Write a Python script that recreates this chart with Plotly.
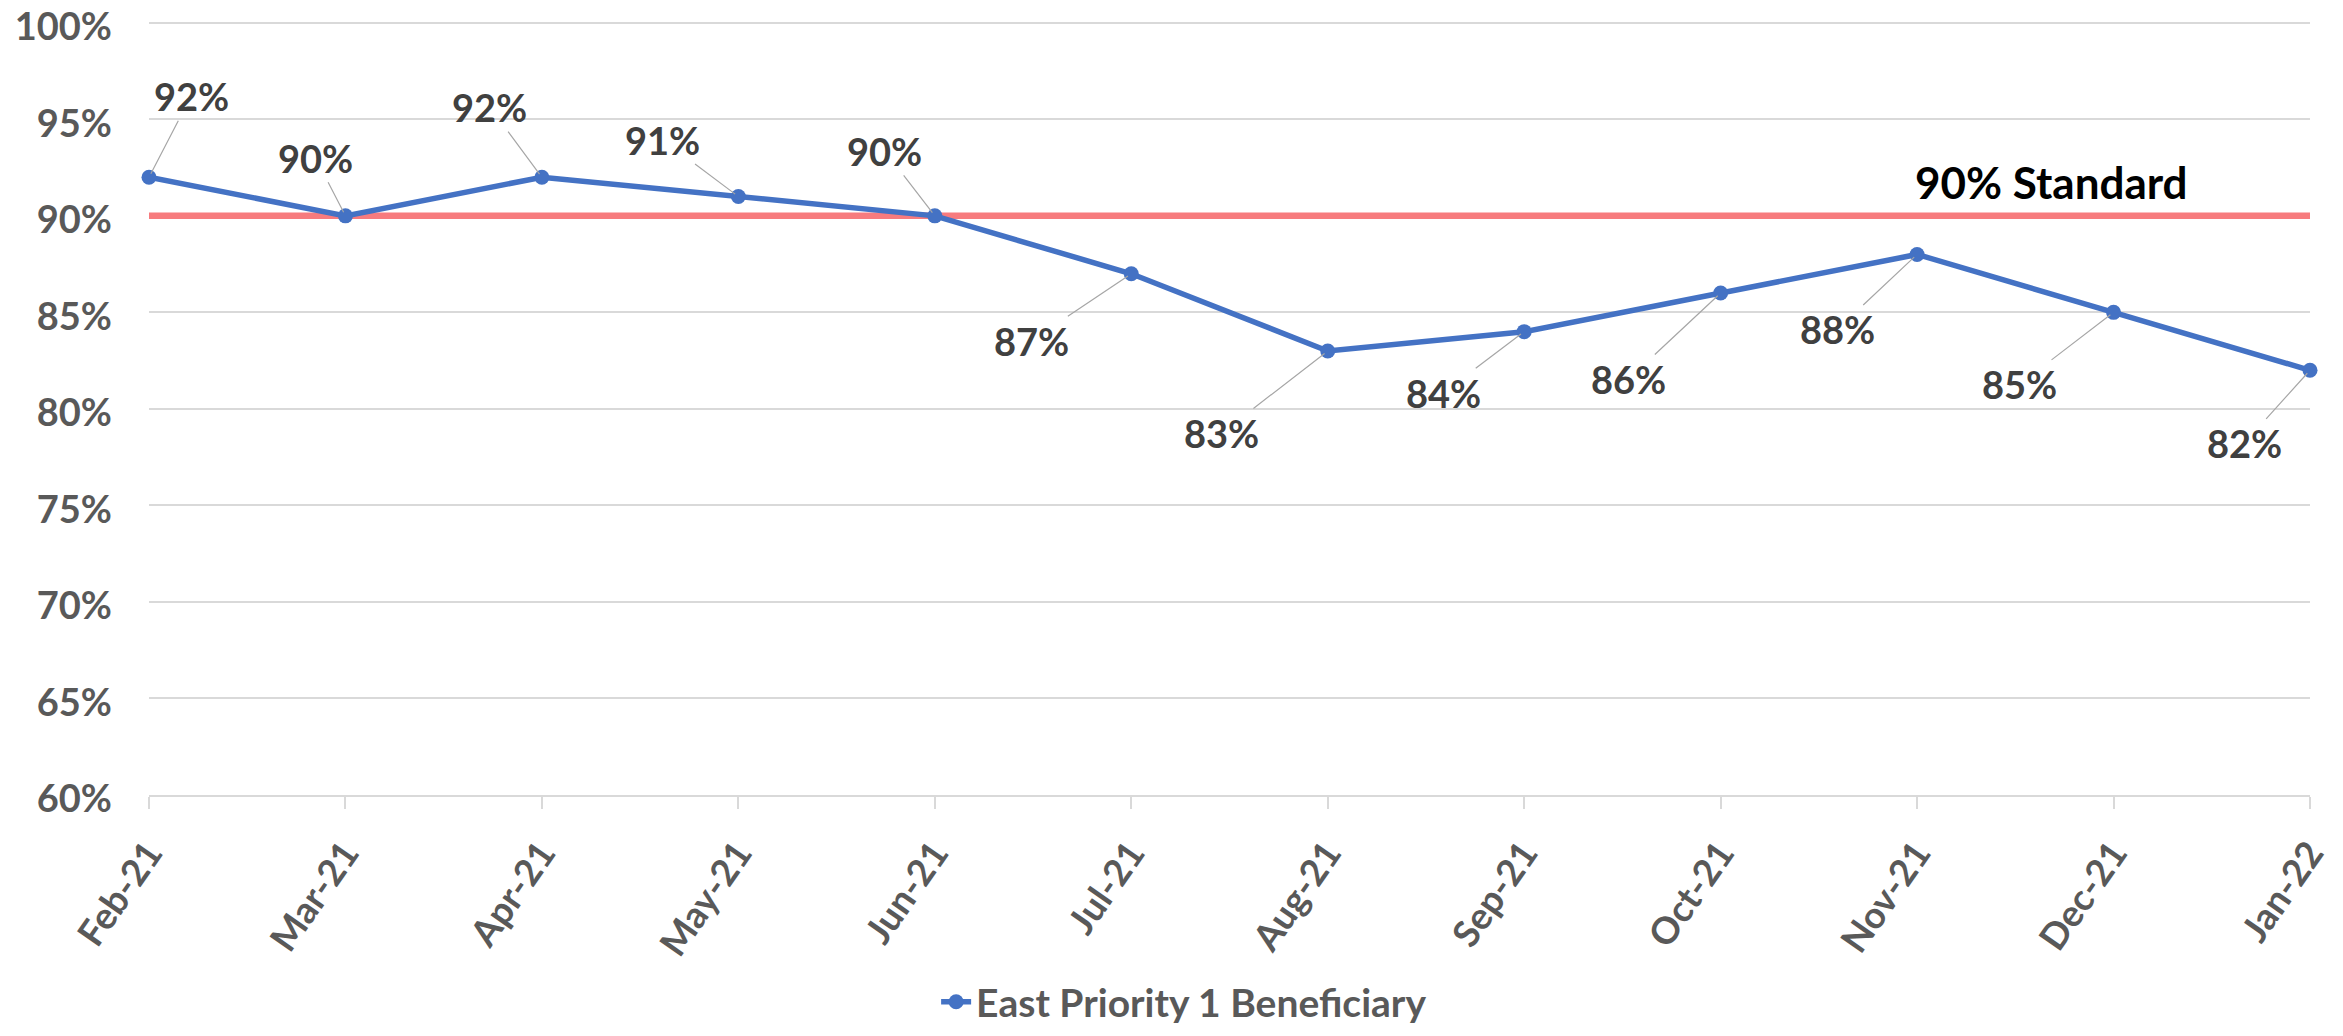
import plotly.graph_objects as go

months = ["Feb-21", "Mar-21", "Apr-21", "May-21", "Jun-21", "Jul-21",
          "Aug-21", "Sep-21", "Oct-21", "Nov-21", "Dec-21", "Jan-22"]
east_p1 = [92, 90, 92, 91, 90, 87, 83, 84, 86, 88, 85, 82]
standard = 90
series_name = "East Priority 1 Beneficiary"
standard_label = "90% Standard"
y_ticks = [60, 65, 70, 75, 80, 85, 90, 95, 100]
y_tick_labels = ["60%", "65%", "70%", "75%", "80%", "85%", "90%", "95%", "100%"]

# label offsets (pixels) for data labels — styling only
label_dx = [42, -30, -52, -76, -50, -100, -106, -81, -92, -80, -94, -66]
label_dy = [-81, -58, -70, -57, -65, 67, 82, 61, 86, 75, 72, 73]

FONT = "Lato"
AXIS_GREY = "#595959"
LABEL_GREY = "#404040"
GRID = "#d9d9d9"

fig = go.Figure()
fig.add_trace(go.Scatter(
    x=months, y=east_p1, mode="lines+markers", name=series_name,
    line=dict(color="#4472C4", width=5.5),
    marker=dict(color="#4472C4", size=15),
    cliponaxis=False,
))

fig.add_shape(type="line", xref="x", yref="y", x0=0, x1=11.05,
              y0=standard, y1=standard, layer="between",
              line=dict(color="#F77B7E", width=6.5))

for m, v, dx, dy in zip(months, east_p1, label_dx, label_dy):
    fig.add_annotation(
        x=m, y=v, text=f"{v}%", showarrow=True, ax=dx, ay=dy,
        arrowhead=0, arrowwidth=1.2, arrowcolor="#a6a6a6", standoff=4,
        font=dict(family=FONT, size=38, color=LABEL_GREY, weight="bold"),
    )

fig.add_annotation(
    xref="paper", yref="y", x=0.8806, y=91.76, text=standard_label,
    showarrow=False, xanchor="center", yanchor="middle",
    font=dict(family=FONT, size=44, color="#000000", weight="bold"),
)

fig.update_layout(
    width=2335, height=1028,
    margin=dict(l=141, r=33, t=9, b=241, autoexpand=False),
    paper_bgcolor="white", plot_bgcolor="white",
    showlegend=True,
    legend=dict(orientation="h", x=0.479, xanchor="center", y=-0.307, yanchor="bottom",
                font=dict(family=FONT, size=39, color=AXIS_GREY, weight="bold"),
                itemwidth=30, tracegroupgap=0),
)
fig.update_xaxes(
    type="category", range=[0, 11], showgrid=False, automargin=False,
    showline=True, linecolor=GRID, linewidth=1.5,
    ticks="outside", ticklen=12, tickcolor=GRID, tickwidth=1.5,
    tickangle=-55, ticklabelstandoff=8,
    tickfont=dict(family=FONT, size=37, color=AXIS_GREY, weight="bold"),
)
fig.update_yaxes(
    range=[60, 100.3], tickmode="array", tickvals=y_ticks, ticktext=y_tick_labels,
    automargin=False, ticklabeloverflow="allow", ticklabelshift=4,
    showgrid=True, gridcolor=GRID, gridwidth=1.5, zeroline=False,
    showline=False, ticks="", ticklabelstandoff=36,
    tickfont=dict(family=FONT, size=38, color=AXIS_GREY, weight="bold"),
)

fig.write_html("out.html")
